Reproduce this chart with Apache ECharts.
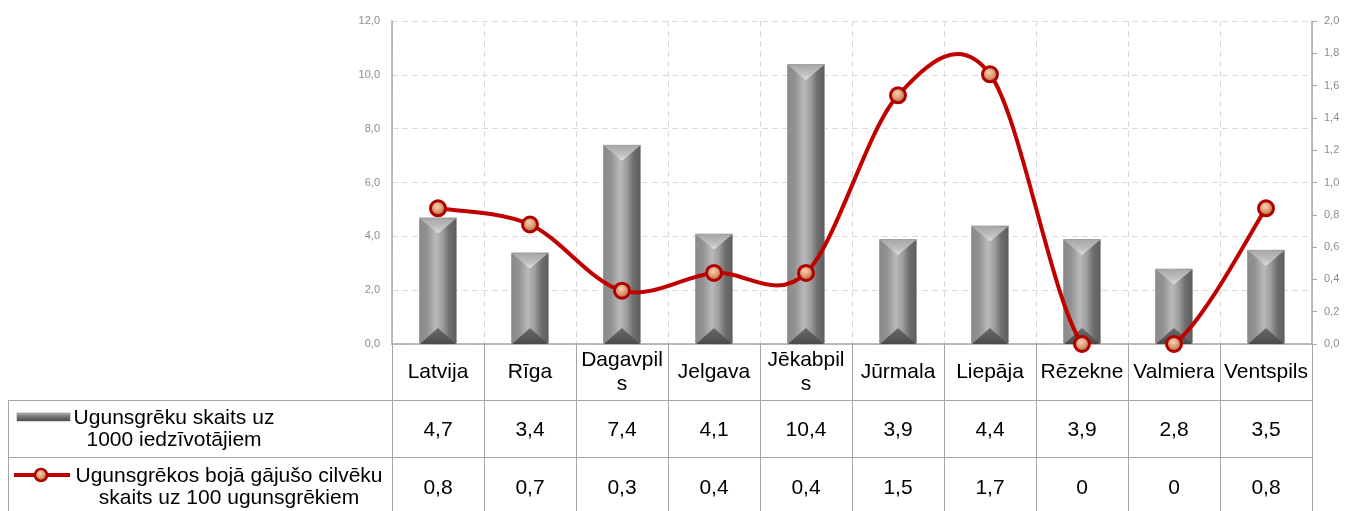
<!DOCTYPE html>
<html>
<head>
<meta charset="utf-8">
<style>
  html, body { margin: 0; padding: 0; background: #fff; }
  #chart { width: 1346px; height: 511px; }
</style>
<script src="https://cdn.jsdelivr.net/npm/echarts@6/dist/echarts.min.js"></script>
</head>
<body>
<div id="chart"></div>
<script>
// kategorijas (pilsētas)
var categories = ['Latvija', 'Rīga', 'Dagavpils', 'Jelgava', 'Jēkabpils', 'Jūrmala', 'Liepāja', 'Rēzekne', 'Valmiera', 'Ventspils'];
// kā nosaukumi redzami tabulas galvā (ar pārnesumu)
var categoryLabels = ['Latvija', 'Rīga', 'Dagavpil\ns', 'Jelgava', 'Jēkabpil\ns', 'Jūrmala', 'Liepāja', 'Rēzekne', 'Valmiera', 'Ventspils'];
// ugunsgrēku skaits uz 1000 iedzīvotājiem (stabiņi, kreisā ass)
var fireRate = [4.7, 3.4, 7.4, 4.1, 10.4, 3.9, 4.4, 3.9, 2.8, 3.5];
// bojā gājušie uz 100 ugunsgrēkiem (līnija, labā ass)
var deathRate = [0.84, 0.74, 0.33, 0.44, 0.44, 1.54, 1.67, 0, 0, 0.84];
var seriesNames = ['Ugunsgrēku skaits uz\n1000 iedzīvotājiem', 'Ugunsgrēkos bojā gājušo cilvēku\nskaits uz 100 ugunsgrēkiem'];

var FONT = '"Liberation Sans", Arial, sans-serif';
var GRID_LINE = '#a6a6a6';
var BAR_W = 38;

function comma(v) {
  return v.toFixed(1).replace('.', ',');
}
function tableVal(v) {
  return v === 0 ? '0' : comma(v);
}

var chart = echarts.init(document.getElementById('chart'));

var barColor = new echarts.graphic.LinearGradient(0, 0, 1, 0, [
  { offset: 0, color: '#8a8a8a' },
  { offset: 0.2, color: '#919191' },
  { offset: 0.45, color: '#bababa' },
  { offset: 0.62, color: '#9e9e9e' },
  { offset: 0.8, color: '#6e6e6e' },
  { offset: 1, color: '#5c5c5c' }
]);
var dotColor = new echarts.graphic.RadialGradient(0.45, 0.4, 0.6, [
  { offset: 0, color: '#f6d2b6' },
  { offset: 0.5, color: '#d9976c' },
  { offset: 1, color: '#9c5a35' }
]);

// Excel stila izlīdzinātā līnija (Catmull-Rom), segments no i līdz i+1
function renderCurve(params, api) {
  var i = params.dataIndex;
  var n = deathRate.length;
  if (i >= n - 1) return null;
  function pt(j) {
    j = Math.max(0, Math.min(n - 1, j));
    return api.coord([j, deathRate[j]]);
  }
  var p0 = pt(i - 1), p1 = pt(i), p2 = pt(i + 1), p3 = pt(i + 2);
  return {
    type: 'bezierCurve',
    shape: {
      x1: p1[0], y1: p1[1], x2: p2[0], y2: p2[1],
      cpx1: p1[0] + (p2[0] - p0[0]) / 6, cpy1: p1[1] + (p2[1] - p0[1]) / 6,
      cpx2: p2[0] - (p3[0] - p1[0]) / 6, cpy2: p2[1] - (p3[1] - p1[1]) / 6
    },
    style: { stroke: '#c00000', lineWidth: 4, fill: null, lineCap: 'round' }
  };
}

// stabiņu slīpās malas (augša gaišāka, apakša tumšāka)
function renderBevel(params, api) {
  var top = api.coord([api.value(0), api.value(1)]);
  var base = api.coord([api.value(0), 0]);
  var L = top[0] - BAR_W / 2, R = top[0] + BAR_W / 2, C = top[0];
  var d = Math.min(BAR_W * 0.42, (base[1] - top[1]) / 2);
  return {
    type: 'group',
    children: [
      {
        type: 'polygon',
        shape: { points: [[L + 1, top[1] + 1], [R - 1, top[1] + 1], [C, top[1] + d]] },
        style: {
          fill: new echarts.graphic.LinearGradient(0, 0, 0, 1, [
            { offset: 0, color: '#a8a8a8' },
            { offset: 0.6, color: '#c0c0c0' },
            { offset: 1, color: '#e2e2e2' }
          ])
        }
      },
      {
        type: 'polygon',
        shape: { points: [[L + 1, base[1]], [R - 1, base[1]], [C, base[1] - d]] },
        style: {
          fill: new echarts.graphic.LinearGradient(0, 0, 0, 1, [
            { offset: 0, color: '#6a6a6a' },
            { offset: 1, color: '#4a4a4a' }
          ])
        }
      }
    ]
  };
}

var option = {
  animation: false,
  grid: { left: 392, right: 34, top: 21, bottom: 167, outerBoundsMode: 'none' },
  xAxis: [
    {
      type: 'category',
      data: categories,
      axisLine: { lineStyle: { color: GRID_LINE, width: 1.5 } },
      axisTick: { show: true, interval: 0, inside: false, length: 167, lineStyle: { color: GRID_LINE } },
      splitLine: { show: true, interval: 0, lineStyle: { color: '#d9d9d9', type: [6, 4] } },
      axisLabel: {
        interval: 0, margin: 28, verticalAlign: 'middle', color: '#000',
        fontFamily: FONT, fontSize: 21, lineHeight: 24,
        formatter: function (v, i) { return categoryLabels[i]; }
      }
    },
    {
      type: 'category',
      data: categories,
      position: 'bottom',
      axisLine: { show: false }, axisTick: { show: false }, splitLine: { show: false },
      axisLabel: {
        interval: 0, margin: 86, verticalAlign: 'middle', color: '#000',
        fontFamily: FONT, fontSize: 21,
        formatter: function (v, i) { return tableVal(fireRate[i]); }
      }
    },
    {
      type: 'category',
      data: categories,
      position: 'bottom',
      axisLine: { show: false }, axisTick: { show: false }, splitLine: { show: false },
      axisLabel: {
        interval: 0, margin: 144, verticalAlign: 'middle', color: '#000',
        fontFamily: FONT, fontSize: 21,
        formatter: function (v, i) { return tableVal(Math.round(deathRate[i] * 10) / 10); }
      }
    }
  ],
  yAxis: [
    {
      type: 'value', min: 0, max: 12, interval: 2,
      axisLine: { show: true, lineStyle: { color: GRID_LINE, width: 1.5 } },
      axisTick: { show: false },
      splitLine: { lineStyle: { color: '#d9d9d9', type: [6, 4] } },
      axisLabel: { color: '#8c8c8c', fontFamily: FONT, fontSize: 11, margin: 12, formatter: comma }
    },
    {
      type: 'value', min: 0, max: 2, interval: 0.2, position: 'right',
      axisLine: { show: true, lineStyle: { color: GRID_LINE, width: 1.5 } },
      axisTick: { show: true, length: 5, lineStyle: { color: GRID_LINE } },
      splitLine: { show: false },
      axisLabel: { color: '#8c8c8c', fontFamily: FONT, fontSize: 11, margin: 12, formatter: comma }
    }
  ],
  series: [
    {
      name: seriesNames[0],
      type: 'bar',
      data: fireRate,
      barWidth: BAR_W,
      itemStyle: { color: barColor, borderColor: '#a0a0a0', borderWidth: 1 }
    },
    {
      type: 'custom',
      renderItem: renderBevel,
      data: fireRate.map(function (v, i) { return [i, v]; }),
      encode: { x: 0, y: 1 },
      z: 3,
      silent: true
    },
    {
      type: 'custom',
      renderItem: renderCurve,
      yAxisIndex: 1,
      data: deathRate.map(function (v, i) { return [i, v]; }),
      encode: { x: 0, y: 1 },
      clip: true,
      z: 4,
      silent: true
    },
    {
      name: seriesNames[1],
      type: 'line',
      yAxisIndex: 1,
      data: deathRate,
      symbol: 'circle',
      symbolSize: 15,
      lineStyle: { width: 0, opacity: 0 },
      itemStyle: { color: dotColor, borderColor: '#b00000', borderWidth: 3 },
      clip: false,
      z: 5
    }
  ],
  graphic: [
    // tabulas līnijas
    { type: 'line', shape: { x1: 8, y1: 400.5, x2: 1312, y2: 400.5 }, style: { stroke: GRID_LINE, lineWidth: 1 } },
    { type: 'line', shape: { x1: 8, y1: 457.5, x2: 1312, y2: 457.5 }, style: { stroke: GRID_LINE, lineWidth: 1 } },
    { type: 'line', shape: { x1: 8.5, y1: 400, x2: 8.5, y2: 511 }, style: { stroke: GRID_LINE, lineWidth: 1 } },
    // leģendas ikonas
    {
      type: 'rect', shape: { x: 17, y: 413, width: 53, height: 8 },
      style: {
        fill: new echarts.graphic.LinearGradient(0, 0, 0, 1, [
          { offset: 0, color: '#c4c4c4' },
          { offset: 0.35, color: '#7e7e7e' },
          { offset: 1, color: '#4a4a4a' }
        ]),
        stroke: '#6a6a6a', lineWidth: 0.5
      }
    },
    { type: 'line', shape: { x1: 14, y1: 475, x2: 70, y2: 475 }, style: { stroke: '#c00000', lineWidth: 4 } },
    { type: 'circle', shape: { cx: 41, cy: 475, r: 6 }, style: { fill: dotColor, stroke: '#b00000', lineWidth: 2.5 } },
    // leģendas teksti
    {
      type: 'text', x: 174, y: 429,
      style: { text: seriesNames[0], fill: '#000', font: '21px ' + FONT, align: 'center', verticalAlign: 'middle', lineHeight: 22 }
    },
    {
      type: 'text', x: 229, y: 487,
      style: { text: seriesNames[1], fill: '#000', font: '21px ' + FONT, align: 'center', verticalAlign: 'middle', lineHeight: 22 }
    }
  ]
};

chart.setOption(option);
</script>
</body>
</html>
